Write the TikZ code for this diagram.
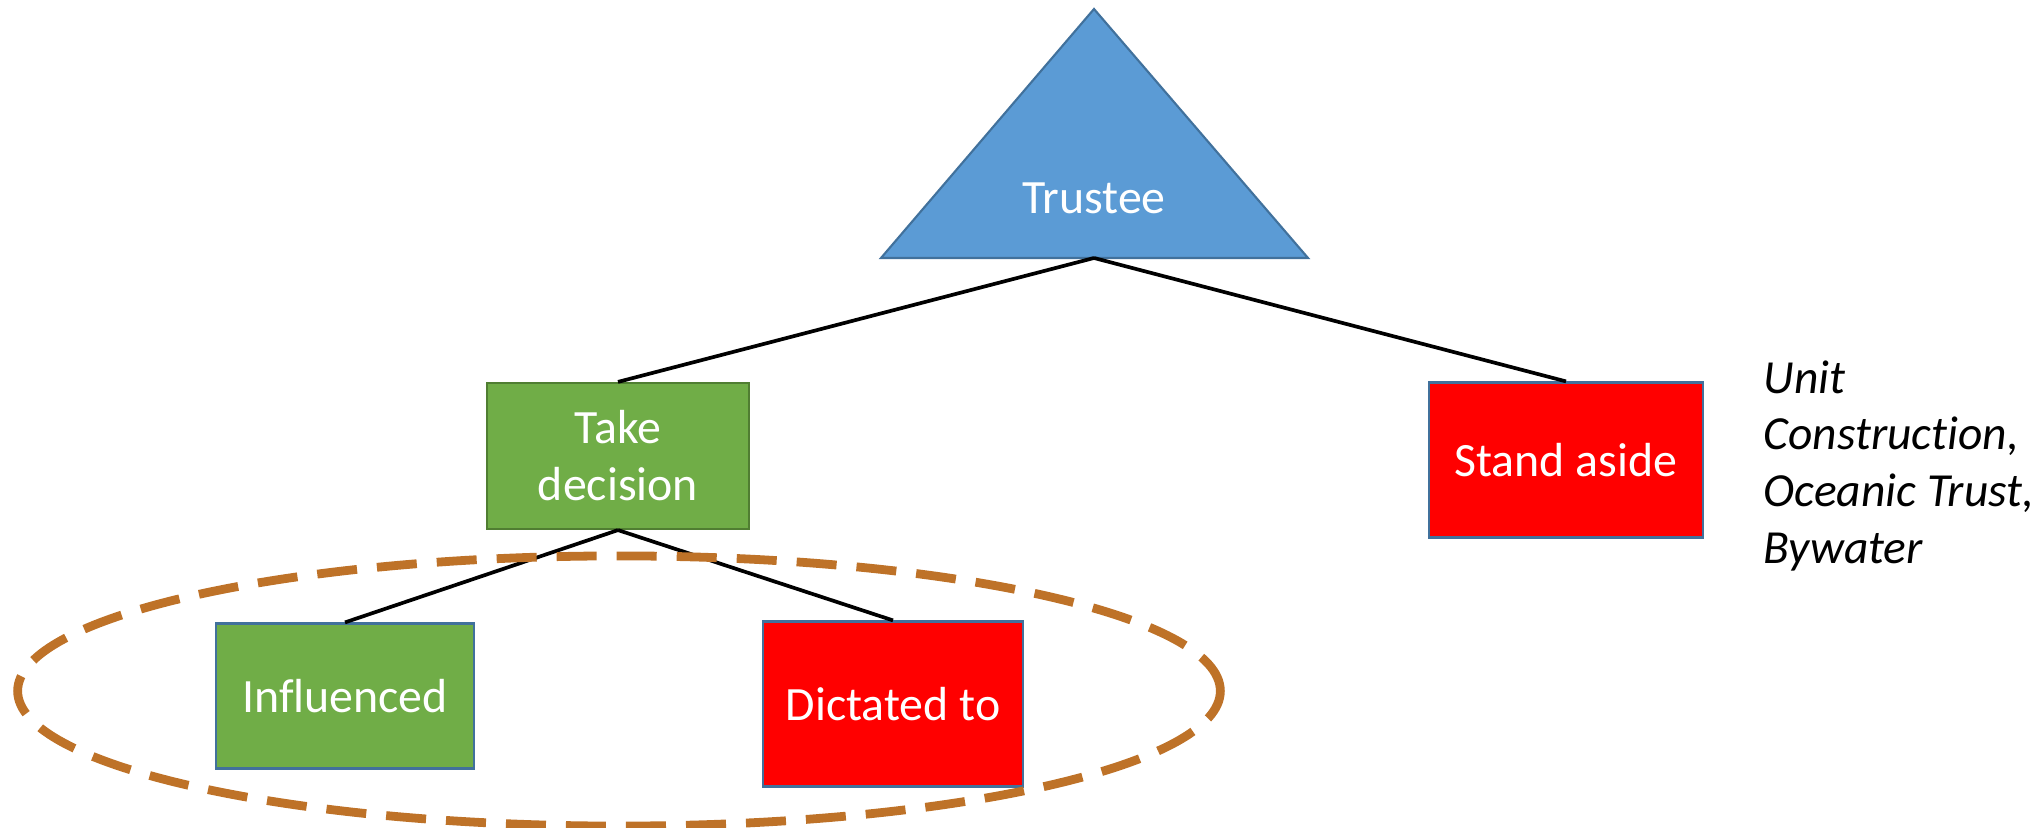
\documentclass[tikz,border=0pt]{standalone}
\usepackage{fontspec}
\setmainfont{Carlito}[Ligatures={NoCommon}]
\definecolor{triblue}{RGB}{91,155,213}
\definecolor{bordblue}{RGB}{65,113,156}
\definecolor{boxgreen}{RGB}{112,173,71}
\definecolor{bordgreen}{RGB}{80,126,50}
\definecolor{boxred}{RGB}{255,0,0}
\definecolor{ringbrown}{RGB}{190,114,40}
\begin{document}
\begin{tikzpicture}[x=0.01cm,y=-0.01cm,
  lbl/.style={text=white,font=\fontsize{13.6}{16.2}\selectfont,align=center},
  greenbox/.style={lbl,draw=bordgreen,fill=boxgreen,line width=0.6pt,inner sep=0pt},
  redbox/.style={lbl,draw=bordblue,fill=boxred,line width=0.6pt,inner sep=0pt},
  gbox/.style={lbl,draw=bordblue,fill=boxgreen,line width=0.6pt,inner sep=0pt},
  link/.style={draw=black,line width=1.05pt},
  ring/.style={draw=ringbrown,line width=2.5pt,dash pattern=on 0.4cm off 0.2cm}]
\useasboundingbox (0,0) rectangle (2042,828);
% triangle
\draw[fill=triblue,draw=bordblue,line width=0.6pt] (1094,9) -- (1308,258) -- (881,258) -- cycle;
\node[lbl] (trustee) at (1094,198) {Trustee};
\coordinate (tb) at (1094,258);
% boxes
\node[greenbox,minimum width=2.62cm,minimum height=1.46cm] (take) at (618,456) {Take\\decision};
\node[redbox,minimum width=2.73cm,minimum height=1.55cm] (stand) at (1566,460) {Stand aside};
\node[gbox,minimum width=2.57cm,minimum height=1.45cm] (infl) at (345,696) {Influenced};
\node[redbox,minimum width=2.59cm,minimum height=1.65cm] (dict) at (893,704) {Dictated to};
% connectors
\draw[link] (tb) -- (take.north);
\draw[link] (tb) -- (stand.north);
\draw[link] (take.south) -- (infl.north);
\draw[link] (take.south) -- (dict.north);
% dashed ellipse
\draw[ring] (619,691) ellipse [x radius=6.01cm, y radius=1.35cm];
% side note
\node[anchor=north west,align=left,inner sep=0pt,font=\fontsize{13.5}{16.1}\selectfont\itshape] (note) at (1763,360) {Unit\\Construction,\\Oceanic Trust,\\Bywater};
\end{tikzpicture}
\end{document}
